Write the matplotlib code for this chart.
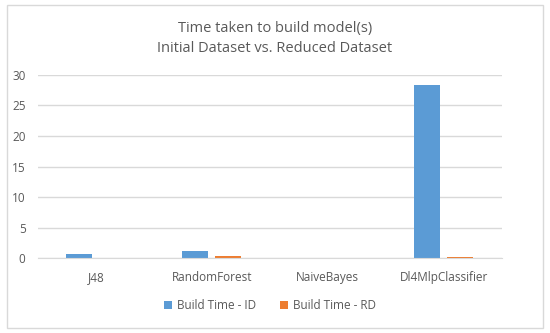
import numpy as np
import matplotlib
matplotlib.use('Agg')
from matplotlib import pyplot as plt
from matplotlib.patches import Rectangle

# chart data
categories = ['J48', 'RandomForest', 'NaiveBayes', 'Dl4MlpClassifier']
build_time_id = [0.7, 1.15, 0.02, 28.3]
build_time_rd = [0.05, 0.35, 0.01, 0.25]
series_names = ['Build Time - ID', 'Build Time - RD']
y_ticks = [0, 5, 10, 15, 20, 25, 30]

plt.rcParams['font.family'] = ['Open Sans', 'DejaVu Sans']
text_color = '#595959'

fig = plt.figure(figsize=(5.5, 3.33), dpi=100)
fig.patches.append(Rectangle((0.012, 0.015), 0.976, 0.97, transform=fig.transFigure,
                             fill=False, edgecolor='#d9d9d9', linewidth=1))
ax = fig.add_axes([0.069, 0.225, 0.843, 0.55])

x = np.arange(len(categories))
w = 0.225
gap = 0.06
ax.bar(x - (w + gap) / 2, build_time_id, w, color='#5b9bd5', label=series_names[0])
ax.bar(x + (w + gap) / 2, build_time_rd, w, color='#ed7d31', label=series_names[1])

ax.set_xlim(-0.5, len(categories) - 0.5)
ax.set_ylim(0, 30)
ax.set_yticks(y_ticks)
ax.set_xticks(x)
ax.set_xticklabels(categories)
ax.grid(axis='y', color='#d9d9d9', linewidth=1)
ax.set_axisbelow(True)
for s in ['top', 'right', 'left']:
    ax.spines[s].set_visible(False)
ax.spines['bottom'].set_color('#d9d9d9')
ax.tick_params(length=0, labelsize=8.5, colors=text_color, pad=9)

fig.text(0.5, 0.885, 'Time taken to build model(s)\nInitial Dataset vs. Reduced Dataset',
         ha='center', va='center', fontsize=10.5, color=text_color, linespacing=1.45)
ax.legend(loc='upper center', bbox_to_anchor=(0.5, -0.165), ncol=2, frameon=False,
          fontsize=8.5, labelcolor=text_color, handlelength=0.7, handleheight=0.7,
          columnspacing=2.0, handletextpad=0.4)

fig.savefig('out.png', dpi=100)
